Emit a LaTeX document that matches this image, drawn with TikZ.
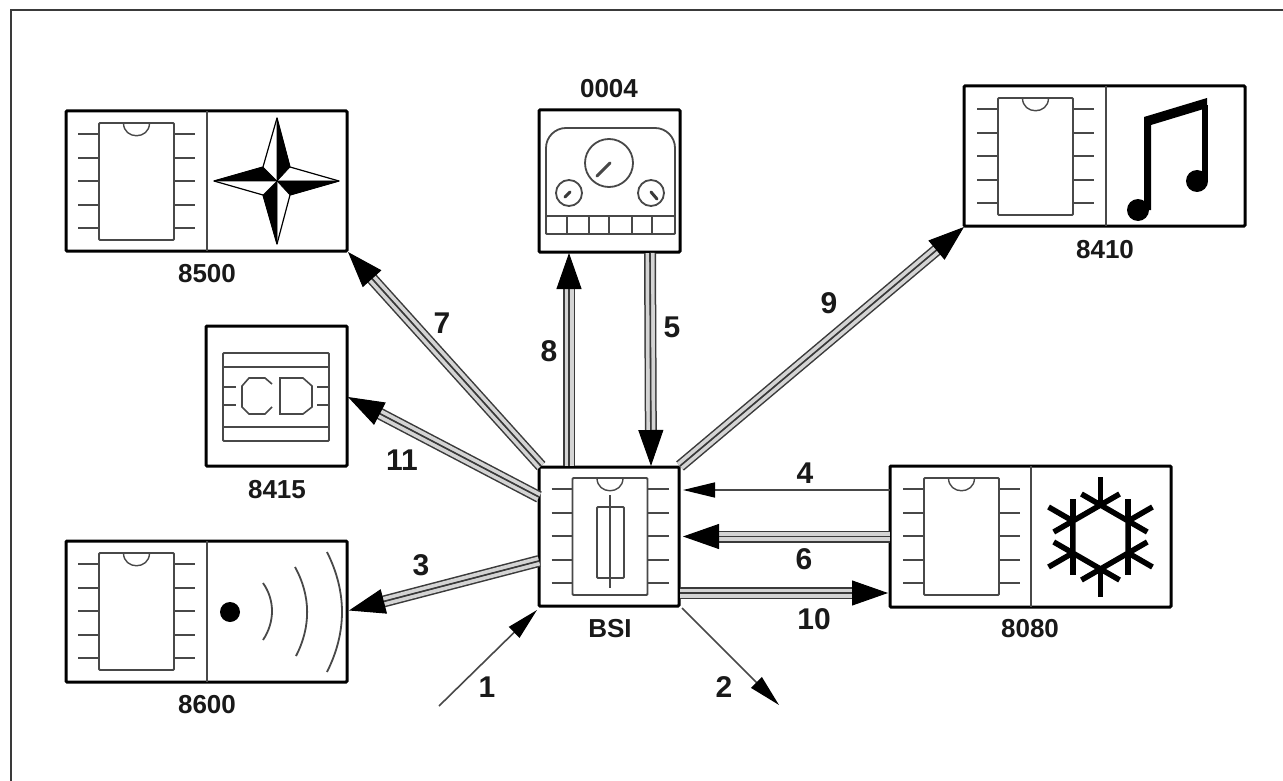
\documentclass[tikz,border=0pt]{standalone}
\usepackage{fontspec}
\setmainfont{Liberation Sans}
\usetikzlibrary{arrows.meta}
\definecolor{dk}{HTML}{3A3A3A}
\definecolor{lt}{HTML}{D4D4D4}
\definecolor{ln}{HTML}{484848}
\tikzset{
  unitbox/.style={draw=black,line width=3pt,fill=white,rounded corners=1pt,inner sep=0pt,outer sep=0pt,anchor=north west},
  wide/.style={unitbox,minimum width=281pt,minimum height=140pt},
  square/.style={unitbox,minimum width=141pt,minimum height=140pt},
  txt/.style={font=\fontsize{26}{26}\selectfont\bfseries,text=black!90,inner sep=0pt},
  numtxt/.style={font=\fontsize{30}{30}\selectfont\bfseries,text=black!90,inner sep=0pt},
  fine/.style={draw=ln,line width=1.8pt,rounded corners=1pt},
  pin/.style={draw=ln,line width=1.8pt},
  solid black/.style={fill=black,draw=black,line width=0.6pt,line join=round},
  tripleln/.style={draw=dk,line width=12pt,shorten >=30pt,
    postaction={draw=lt,line width=9pt,shorten >=30pt},
    postaction={draw=dk,line width=1.6pt,shorten >=30pt},
    postaction={draw=dk,line width=1pt,shorten >=0pt,-{Triangle[length=36pt,width=25pt,color=black]}}},
  singleln/.style={draw=ln,line width=1.6pt,-{Triangle[length=32pt,width=15pt,color=black]}},
}
% chip: x and y of its top left corner
\newcommand{\chipsym}[2]{%
  \begin{scope}[shift={(#1,#2)}]
    \draw[fine] (0,0) rectangle (75,117);
    \draw[draw=ln,line width=1.4pt] (24.5,0) .. controls (24.5,17) and (50.5,17) .. (50.5,0);
    \foreach \py in {11,35,58,82,105} {
      \draw[pin] (-21,\py) -- (0,\py);
      \draw[pin] (75,\py) -- (96,\py);
    }
  \end{scope}}
\begin{document}
\begin{tikzpicture}[x=1pt,y=-1pt]
\useasboundingbox (0,0) rectangle (1283,781);
\fill[white] (0,0) rectangle (1283,781);
% sheet edge
\coordinate (sheetA) at (11,781);
\coordinate (sheetB) at (11,10);
\coordinate (sheetC) at (1283,10);
\draw[draw=dk,line width=2.5pt] (sheetA) -- (sheetB) -- (sheetC);

% ---- boxes
\node[wide] (n8500) at (66,111) {};
\node[square,minimum height=142pt] (n0004) at (539,110) {};
\node[wide] (n8410) at (964,86) {};
\node[square] (n8415) at (206,326) {};
\node[wide,minimum height=141pt] (n8600) at (66,541) {};
\node[unitbox,minimum width=140pt,minimum height=139pt] (bsi) at (539,467) {};
\node[wide,minimum height=141pt] (n8080) at (890,466) {};

% ---- dividers
\draw[pin] (n8500.north west) ++(141,0) -- ++(0,140);
\draw[pin] (n8410.north west) ++(142,0) -- ++(0,140);
\draw[pin] (n8600.north west) ++(141,0) -- ++(0,141);
\draw[pin] (n8080.north west) ++(141,0) -- ++(0,141);

% ---- chips
\chipsym{99}{123}
\chipsym{998}{98}
\chipsym{99}{553}
\chipsym{572.5}{478}
\chipsym{924}{478}

% ---- fuse in BSI
\draw[fine] (597,507) rectangle (624,578);
\draw[pin] (610,495) -- (610,588);

% ---- compass star
\filldraw[draw=black,fill=white,line width=1.2pt,line join=round]
  (277,118) -- (290,167) -- (339,181) -- (290,195) -- (277,244) -- (263,195) -- (214,181) -- (263,167) -- cycle;
\filldraw[solid black] (277,118) -- (290,167) -- (277,181) -- cycle;
\filldraw[solid black] (214,181) -- (263,167) -- (277,181) -- cycle;
\filldraw[solid black] (339,181) -- (290,195) -- (277,181) -- cycle;
\filldraw[solid black] (277,244) -- (263,195) -- (277,181) -- cycle;

% ---- instrument cluster
\draw[fine,rounded corners=20pt] (546,234) -- (546,128) -- (675,128) -- (675,234);
\draw[fine] (546,216) rectangle (675,234);
\foreach \vx in {567,589,609,632,652} \draw[pin] (\vx,216) -- (\vx,234);
\draw[pin] (609,163) circle[radius=24pt];
\draw[pin] (569,193) circle[radius=13pt];
\draw[pin] (651,193) circle[radius=13pt];
\draw[draw=ln,line width=3pt,line cap=round] (597,176) -- (610,163);
\draw[draw=dk,line width=3pt,line cap=round] (565,197) -- (570,192);
\draw[draw=dk,line width=3pt,line cap=round] (651,192) -- (657,199);

% ---- music notes
\fill[black] (1144,117) -- (1207,98) -- (1207,108) -- (1151,125) -- (1151,210) -- (1144,210) -- cycle;
\fill[black] (1202,105) rectangle (1208,182);
\fill[black] (1138,210) circle[radius=11pt];
\fill[black] (1197,181) circle[radius=11pt];

% ---- CD
\draw[fine] (223,353) rectangle (329,441);
\draw[pin] (223,367) -- (329,367);
\draw[pin] (223,427) -- (329,427);
\foreach \sy in {387,405} {
  \draw[pin] (223,\sy) -- (236,\sy);
  \draw[pin] (317,\sy) -- (329,\sy);
}
\draw[draw=ln,line width=1.6pt] (272,384) -- (265,378) -- (249,378) -- (242,386) -- (242,407) -- (249,414) -- (265,414) -- (272,407);
\draw[draw=ln,line width=1.6pt] (280,378) -- (303,378) -- (312,386) -- (312,407) -- (303,414) -- (280,414) -- cycle;

% ---- radio waves
\fill[black] (230,612) circle[radius=10pt];
\draw[pin] (263,583) .. controls (275,600) and (275,622) .. (263,640);
\draw[pin] (295,567) .. controls (311,596) and (311,627) .. (296,656);
\draw[pin] (327,552) .. controls (347,592) and (347,632) .. (327,672);

% ---- snowflake
\begin{scope}[shift={(1100.5,537)}]
  \draw[black,line width=5.5pt,line join=miter]
    (90:32) -- (30:32) -- (-30:32) -- (-90:32) -- (-150:32) -- (150:32) -- cycle;
  \foreach \va in {90,30,-30,-90,-150,150} {
    \draw[black,line width=5.5pt] (\va:32) -- (\va:60);
    \draw[black,line width=5.5pt] (\va:32) -- ++(\va+60:22);
    \draw[black,line width=5.5pt] (\va:32) -- ++(\va-60:22);
  }
\end{scope}

% ---- connectors
\coordinate (free1) at (439,706);
\coordinate (free2) at (779,705);
\draw[tripleln] ([shift={(2,-1)}]bsi.north west) -- ([shift={(1,1)}]n8500.south east);
\draw[tripleln] ([shift={(0,-39.5)}]bsi.west) -- ([shift={(1,1)}]n8415.east);
\draw[tripleln] ([shift={(0,24.5)}]bsi.west) -- ([shift={(2,-1)}]n8600.east);
\draw[tripleln] ([shift={(30,-1)}]bsi.north west) -- ([shift={(30,1)}]n0004.south west);
\draw[tripleln] ([shift={(111,1)}]n0004.south west) -- ([shift={(112,-1)}]bsi.north west);
\draw[tripleln] ([shift={(1,-1)}]bsi.north east) -- ([shift={(0,1)}]n8410.south west);
\draw[singleln] ([shift={(0,-46.5)}]n8080.west) -- ([shift={(4,-46.5)}]bsi.east);
\draw[tripleln] (n8080.west) -- ([shift={(4,0)}]bsi.east);
\draw[tripleln] ([shift={(1,56.5)}]bsi.east) -- ([shift={(-2,56.5)}]n8080.west);
\draw[singleln] (free1) -- ([shift={(-2,4)}]bsi.south west);
\draw[singleln] ([shift={(3,2)}]bsi.south east) -- (free2);

% ---- texts
\node[txt] (l8500) at (207,274) {8500};
\node[txt] (l0004) at (609,89) {0004};
\node[txt] (l8410) at (1105,250) {8410};
\node[txt] (l8415) at (277,490) {8415};
\node[txt] (l8600) at (207,705) {8600};
\node[txt] (lbsi) at (610,629) {BSI};
\node[txt] (l8080) at (1030,629) {8080};
\node[numtxt] (a1) at (487,687) {1};
\node[numtxt] (a2) at (724,687) {2};
\node[numtxt] (a3) at (421,565) {3};
\node[numtxt] (a4) at (805,473) {4};
\node[numtxt] (a5) at (672,327) {5};
\node[numtxt] (a6) at (804,559) {6};
\node[numtxt] (a7) at (442,323) {7};
\node[numtxt] (a8) at (549,351) {8};
\node[numtxt] (a9) at (829,303) {9};
\node[numtxt] (a10) at (814,619) {10};
\node[numtxt] (a11) at (402,460) {11};
\end{tikzpicture}
\end{document}
